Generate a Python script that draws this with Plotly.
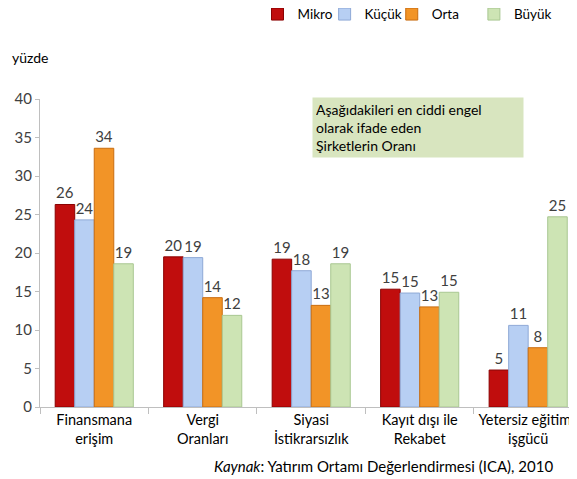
import plotly.graph_objects as go

categories = ["Finansmana<br>erişim", "Vergi<br>Oranları", "Siyasi<br>İstikrarsızlık",
              "Kayıt dışı ile<br>Rekabet", "Yetersiz eğitimli<br>işgücü"]
mikro = [26.3, 19.5, 19.2, 15.3, 4.8]
kucuk = [24.3, 19.4, 17.7, 14.8, 10.6]
orta = [33.6, 14.2, 13.2, 13.0, 7.7]
buyuk = [18.6, 11.9, 18.6, 14.9, 24.7]
y_ticks = [0, 5, 10, 15, 20, 25, 30, 35, 40]

FONT = "Lato"
series = [
    ("Mikro", mikro, "#c00d0d", "#8a0000", "legend", 0.405),
    ("Küçük", kucuk, "#b7cff3", "#8fa9d6", "legend2", 0.530),
    ("Orta", orta, "#f29427", "#c96d10", "legend3", 0.655),
    ("Büyük", buyuk, "#cde4b4", "#a9c792", "legend4", 0.808),
]

fig = go.Figure()
for name, vals, color, edge, leg, _ in series:
    fig.add_trace(go.Bar(
        x=categories, y=vals, name=name, legend=leg, showlegend=True,
        marker=dict(color=color, line=dict(color=edge, width=1)),
        text=vals, texttemplate="%{y:.0f}", textposition="outside",
        textfont=dict(family=FONT, size=15, color="#404040"),
        cliponaxis=False,
    ))

legend_style = dict(orientation="h", xanchor="left", yanchor="middle", y=1.275,
                    font=dict(family=FONT, size=13.5, color="black"),
                    itemwidth=30, bgcolor="rgba(0,0,0,0)", visible=True)

# the page adds an 8px body margin, so the figure is drawn 8px smaller
fig.update_layout(
    width=569, height=471, showlegend=True,
    margin=dict(l=32, r=0, t=91, b=72, autoexpand=False),
    paper_bgcolor="white", plot_bgcolor="white",
    font=dict(family=FONT, size=13, color="#222222"),
    barmode="group", bargap=0.28, bargroupgap=0,
    xaxis=dict(range=[-0.5, 4.45], showline=True, linecolor="#bfbfbf", linewidth=1,
               ticks="outside", tickson="boundaries", tickcolor="#bfbfbf", ticklen=6,
               ticklabeloverflow="allow",
               tickfont=dict(family=FONT, size=14.5, color="black")),
    yaxis=dict(range=[0, 40], tickvals=y_ticks, showgrid=False, zeroline=False,
               showline=True, linecolor="#bfbfbf", linewidth=1,
               ticks="outside", tickcolor="#bfbfbf", ticklen=4,
               tickfont=dict(family=FONT, size=15, color="#404040")),
    annotations=[
        dict(text="yüzde", xref="paper", yref="paper", x=-0.056, y=1.136,
             xanchor="left", yanchor="middle", showarrow=False,
             font=dict(family=FONT, size=14, color="black")),
        dict(text="Aşağıdakileri en ciddi engel<br>olarak ifade eden<br>Şirketlerin Oranı",
             xref="paper", yref="paper", x=0.506, y=1.007, xanchor="left", yanchor="top",
             align="left", showarrow=False, bgcolor="#d8e5bf", borderpad=3,
             width=204, font=dict(family=FONT, size=14, color="black")),
        dict(text="<i>Kaynak</i>: Yatırım Ortamı Değerlendirmesi (ICA), 2010",
             xref="paper", yref="paper", x=0.959, y=-0.19, xanchor="right", yanchor="middle",
             showarrow=False, font=dict(family=FONT, size=15, color="black")),
    ],
)
for name, vals, color, edge, leg, lx in series:
    fig.update_layout({leg: dict(legend_style, x=lx)})

fig.write_html("out.html")
